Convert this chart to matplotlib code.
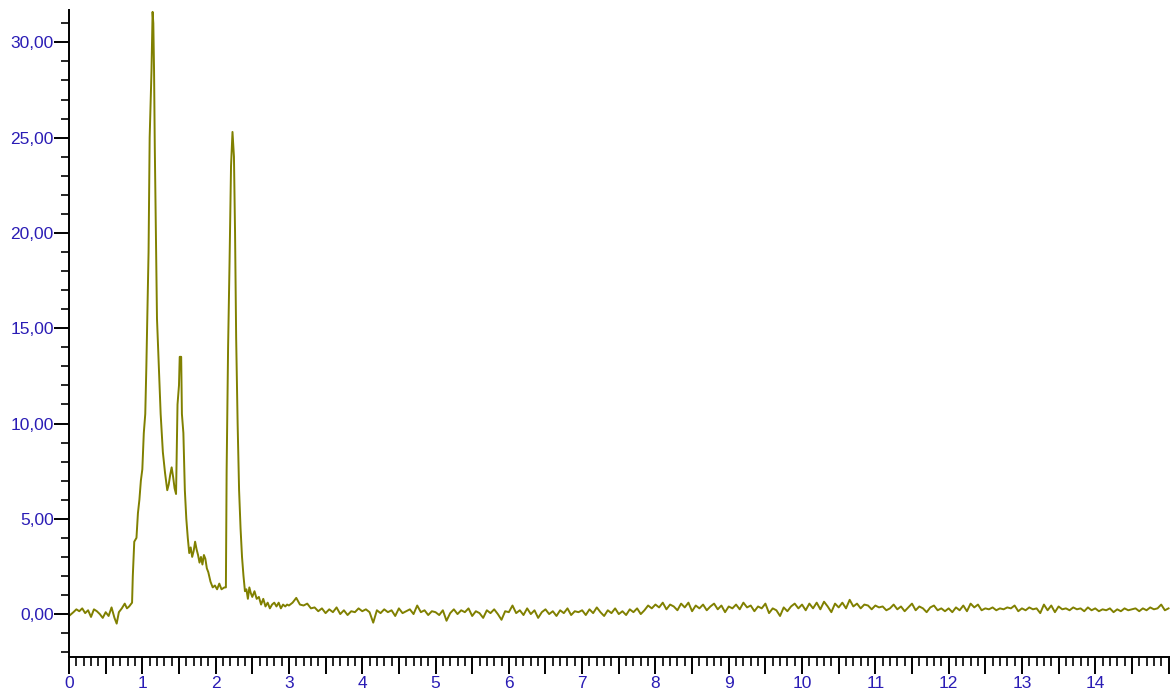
import matplotlib.pyplot as plt
from matplotlib.ticker import MultipleLocator, FuncFormatter

plt.rcParams['font.family'] = ['Liberation Sans', 'DejaVu Sans']

# signal around the peaks (time in min, response)
peak_t = [0.00, 0.03, 0.06, 0.10, 0.14, 0.18, 0.22, 0.26, 0.30, 0.34, 0.38, 0.42,
          0.46, 0.50, 0.54, 0.58, 0.62, 0.65, 0.68, 0.72, 0.76, 0.79, 0.82, 0.86,
          0.87, 0.89, 0.92, 0.94, 0.96, 0.98, 1.00, 1.02, 1.04, 1.055, 1.07, 1.085,
          1.10, 1.125, 1.14, 1.15, 1.16, 1.17, 1.185, 1.20, 1.225, 1.25, 1.28, 1.31,
          1.34, 1.36, 1.38, 1.40, 1.42, 1.44, 1.46, 1.48, 1.50, 1.51, 1.53, 1.54,
          1.56, 1.58, 1.60, 1.62, 1.64, 1.66, 1.68, 1.70, 1.72, 1.74, 1.76, 1.78,
          1.80, 1.82, 1.84, 1.86, 1.88, 1.90, 1.93, 1.96, 1.99, 2.02, 2.05, 2.08,
          2.12, 2.14, 2.15, 2.17, 2.19, 2.21, 2.23, 2.25, 2.265, 2.28, 2.30, 2.32,
          2.34, 2.36, 2.38, 2.40, 2.42, 2.44, 2.46, 2.48, 2.50, 2.53, 2.56, 2.59,
          2.62, 2.65, 2.68, 2.71, 2.74, 2.77, 2.80, 2.83, 2.86, 2.89, 2.92, 2.95,
          2.975]
peak_y = [-0.10, 0.00, 0.10, 0.25, 0.15, 0.30, 0.05, 0.20, -0.15, 0.25, 0.15, 0.00,
          -0.20, 0.10, -0.10, 0.35, -0.20, -0.50, 0.10, 0.30, 0.55, 0.30, 0.40, 0.60,
          2.00, 3.80, 4.00, 5.30, 6.00, 7.00, 7.60, 9.50, 10.5, 13.0, 16.0, 19.0,
          25.0, 28.5, 31.6, 31.0, 28.5, 24.5, 20.0, 15.5, 13.0, 10.5, 8.50, 7.40,
          6.50, 6.80, 7.30, 7.70, 7.20, 6.60, 6.30, 11.0, 12.0, 13.5, 13.5, 10.5,
          9.50, 6.50, 5.00, 4.00, 3.20, 3.50, 3.00, 3.30, 3.80, 3.40, 3.10, 2.70,
          3.00, 2.60, 3.10, 2.90, 2.40, 2.20, 1.70, 1.40, 1.50, 1.30, 1.60, 1.30,
          1.40, 1.40, 7.50, 14.0, 18.5, 23.5, 25.3, 24.0, 20.0, 14.5, 10.0, 6.50,
          4.50, 3.00, 2.00, 1.20, 1.30, 0.80, 1.40, 1.10, 0.90, 1.20, 0.80, 0.90,
          0.50, 0.80, 0.40, 0.60, 0.30, 0.50, 0.60, 0.40, 0.60, 0.30, 0.50, 0.40,
          0.50]

# baseline from 3.00 to 15.00 min, one reading every 0.05 min
base_start = 3.0
base_step = 0.05
base_y = [
    0.45, 0.60, 0.85, 0.50, 0.45, 0.55, 0.30, 0.35, 0.15, 0.30, 0.05, 0.25, 0.10, 0.35, 0.00, 0.20, -0.05, 0.15, 0.10, 0.30,
    0.15, 0.25, 0.10, -0.45, 0.20, 0.05, 0.25, 0.10, 0.20, -0.10, 0.30, 0.05, 0.15, 0.25, 0.00, 0.45, 0.10, 0.20, -0.05, 0.15,
    0.10, -0.05, 0.20, -0.35, 0.05, 0.25, 0.00, 0.20, 0.10, 0.30, -0.10, 0.15, 0.05, -0.20, 0.20, 0.05, 0.25, 0.00, -0.30, 0.15,
    0.10, 0.45, 0.05, 0.20, -0.05, 0.30, 0.00, 0.20, -0.20, 0.10, 0.25, 0.00, 0.15, -0.10, 0.20, 0.05, 0.30, -0.05, 0.15, 0.10,
    0.20, -0.05, 0.25, 0.05, 0.35, 0.10, -0.10, 0.20, 0.05, 0.30, 0.00, 0.15, -0.05, 0.25, 0.10, 0.30, 0.00, 0.20, 0.45, 0.30,
    0.50, 0.35, 0.60, 0.25, 0.50, 0.40, 0.20, 0.55, 0.35, 0.60, 0.15, 0.45, 0.30, 0.50, 0.20, 0.40, 0.55, 0.25, 0.45, 0.10,
    0.40, 0.30, 0.50, 0.25, 0.60, 0.35, 0.45, 0.15, 0.40, 0.30, 0.55, 0.05, 0.30, 0.20, -0.10, 0.35, 0.15, 0.40, 0.55, 0.30,
    0.50, 0.20, 0.55, 0.30, 0.60, 0.25, 0.65, 0.40, 0.10, 0.55, 0.35, 0.60, 0.30, 0.75, 0.40, 0.55, 0.30, 0.50, 0.45, 0.25,
    0.45, 0.35, 0.40, 0.20, 0.30, 0.50, 0.25, 0.40, 0.15, 0.35, 0.55, 0.20, 0.40, 0.30, 0.10, 0.35, 0.45, 0.20, 0.30, 0.15,
    0.30, 0.10, 0.35, 0.20, 0.45, 0.15, 0.55, 0.35, 0.50, 0.20, 0.30, 0.25, 0.35, 0.20, 0.30, 0.25, 0.35, 0.30, 0.45, 0.15,
    0.30, 0.20, 0.35, 0.25, 0.30, 0.05, 0.50, 0.20, 0.45, 0.10, 0.40, 0.25, 0.30, 0.20, 0.35, 0.25, 0.30, 0.15, 0.35, 0.20,
    0.30, 0.15, 0.25, 0.20, 0.30, 0.10, 0.25, 0.15, 0.30, 0.20, 0.25, 0.30, 0.15, 0.30, 0.20, 0.35, 0.25, 0.30, 0.50, 0.20, 0.30,
]

base_t = [base_start + i * base_step for i in range(len(base_y))]
t = peak_t + base_t
y = peak_y + base_y

label_color = '#2a1cb5'
line_color = '#808000'

fig = plt.figure(figsize=(11.7, 6.93), dpi=100)
ax = fig.add_axes([0.059, 0.052, 0.941, 0.9336])

ax.plot(t, y, color=line_color, lw=1.4)

ax.set_xlim(0, 15.02)
ax.set_ylim(-2.25, 31.7)

for s in ['top', 'right']:
    ax.spines[s].set_visible(False)
for s in ['left', 'bottom']:
    ax.spines[s].set_linewidth(1.4)
    ax.spines[s].set_color('black')

# y axis: labelled every 5, small ticks every 1
ax.yaxis.set_major_locator(MultipleLocator(5))
ax.yaxis.set_minor_locator(MultipleLocator(1))
ax.yaxis.set_major_formatter(FuncFormatter(
    lambda v, p: f'{v:.2f}'.replace('.', ',') if v >= 0 else ''))
ax.tick_params(axis='y', which='major', direction='out', length=11, width=1.4,
               pad=0, labelsize=12.5, labelcolor=label_color)
ax.tick_params(axis='y', which='minor', direction='out', length=6, width=1.2)

# x axis: long ticks every 0.5, labels at whole minutes, small ticks every 0.1
ax.xaxis.set_major_locator(MultipleLocator(0.5))
ax.xaxis.set_minor_locator(MultipleLocator(0.1))
ax.xaxis.set_major_formatter(FuncFormatter(
    lambda v, p: f'{int(round(v))}' if abs(v - round(v)) < 1e-6 and v < 14.9 else ''))
ax.tick_params(axis='x', which='major', direction='out', length=12, width=1.4,
               pad=2, labelsize=12.5, labelcolor=label_color)
ax.tick_params(axis='x', which='minor', direction='out', length=6.5, width=1.2)

fig.savefig('out.png', dpi=100)
